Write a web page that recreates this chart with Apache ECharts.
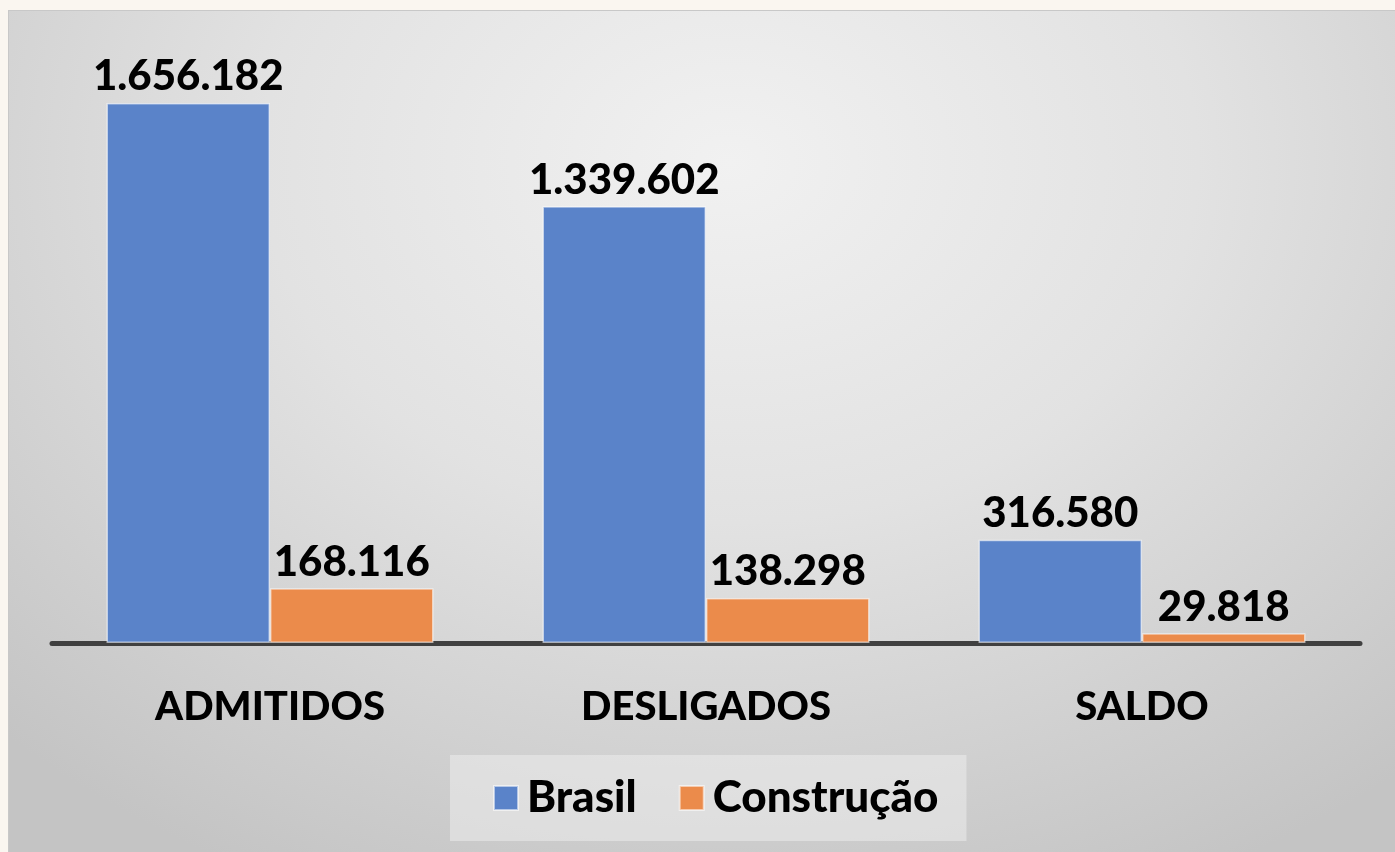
<!DOCTYPE html>
<html>
<head>
<meta charset="utf-8">
<script src="https://cdn.jsdelivr.net/npm/echarts@6/dist/echarts.min.js"></script>
<style>
  html, body { margin: 0; padding: 0; background: #faf6f0; }
  .frame {
    position: absolute; left: 8px; top: 10px; right: 0; bottom: 0;
    background: radial-gradient(ellipse 75% 95% at 52% 18%, #f1f1f1 0%, #e2e2e2 45%, #c4c4c4 100%);
    border-top: 1px solid #c8c8c8; border-left: 1px solid #c8c8c8;
  }
  #chart { position: absolute; left: 0; top: 0; width: 1395px; height: 852px; }
</style>
</head>
<body>
<div class="frame"></div>
<div id="chart"></div>
<script>
// dados
const categorias = ['ADMITIDOS', 'DESLIGADOS', 'SALDO'];
const brasil = [1656182, 1339602, 316580];
const construcao = [168116, 138298, 29818];

const fonte = 'Lato, "Open Sans", sans-serif';
const fmt = v => v.toString().replace(/\B(?=(\d{3})+(?!\d))/g, '.');

const myChart = echarts.init(document.getElementById('chart'));

const rotulo = {
  show: true,
  position: 'top',
  distance: 5,
  color: '#000',
  fontFamily: fonte,
  fontWeight: 900,
  fontSize: 42,
  formatter: p => fmt(p.value)
};

const option = {
  backgroundColor: 'transparent',
  textStyle: { fontFamily: fonte },
  grid: { left: 52, right: 35, top: 56, bottom: 209, containLabel: false },
  legend: {
    data: ['Brasil', 'Construção'],
    left: 450,
    top: 755,
    padding: [21, 28, 21, 43],
    backgroundColor: 'rgba(236,236,236,0.55)',
    icon: 'rect',
    itemWidth: 24,
    itemHeight: 24,
    itemGap: 42,
    textStyle: { fontFamily: fonte, fontWeight: 900, fontSize: 44, color: '#000', padding: [0, 0, 0, 4] }
  },
  xAxis: {
    type: 'category',
    data: categorias,
    axisLine: { lineStyle: { color: '#404040', width: 5 } },
    axisTick: { show: false },
    axisLabel: { color: '#000', fontFamily: fonte, fontWeight: 900, fontSize: 40, margin: 44 }
  },
  yAxis: {
    type: 'value',
    min: 0,
    max: 1800000,
    show: false,
    splitLine: { show: false }
  },
  series: [
    {
      name: 'Brasil',
      type: 'bar',
      data: brasil,
      barGap: '0%',
      barCategoryGap: '25%',
      itemStyle: { color: '#5a83c9', borderColor: 'rgba(255,255,255,0.55)', borderWidth: 1.5 },
      label: rotulo
    },
    {
      name: 'Construção',
      type: 'bar',
      data: construcao,
      itemStyle: { color: '#eb8b4b', borderColor: 'rgba(255,255,255,0.55)', borderWidth: 1.5 },
      label: rotulo
    }
  ]
};

myChart.setOption(option);
</script>
</body>
</html>
